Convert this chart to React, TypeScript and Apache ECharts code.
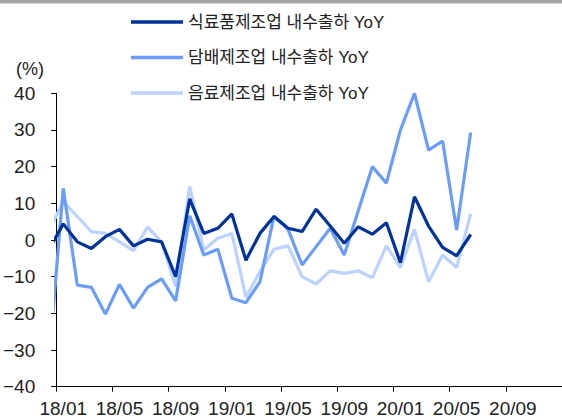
import React, { useEffect, useRef } from "react";
import * as echarts from "echarts";

// Month categories shown on the x axis (18/01 .. 20/12)
const months = [
  "18/01", "18/02", "18/03", "18/04", "18/05", "18/06", "18/07", "18/08", "18/09", "18/10", "18/11", "18/12",
  "19/01", "19/02", "19/03", "19/04", "19/05", "19/06", "19/07", "19/08", "19/09", "19/10", "19/11", "19/12",
  "20/01", "20/02", "20/03", "20/04", "20/05", "20/06", "20/07", "20/08", "20/09", "20/10", "20/11", "20/12",
];

const seriesNames = ["식료품제조업 내수출하 YoY", "담배제조업 내수출하 YoY", "음료제조업 내수출하 YoY"];

// Value for 17/12 (clipped at the left edge of the plot)
const prevFood = -2.5;
const prevTobacco = -32;
const prevBeverage = 2.7;

// 18/01 .. 20/06
const food = [
  4.4, -0.5, -2.3, 0.9, 2.9, -1.6, 0.2, -0.5, -10, 11.2, 1.8, 3.2,
  7.1, -5.5, 1.8, 6.4, 3.2, 2.3, 8.4, 3.8, -0.9, 3.6, 1.6, 4.7,
  -6.2, 11.8, 3.8, -2.0, -4.3, 1.5,
];
const tobacco = [
  14.1, -12.3, -12.9, -20.2, -12.1, -18.6, -12.9, -10.6, -16.6, 6.6, -4.1, -2.5,
  -15.9, -17.1, -11.4, 6.5, 2.9, -6.8, -1.8, 3.2, -4.1, 8.0, 20.0, 15.5,
  30.0, 40.0, 24.5, 27.0, 2.7, 29.3,
];
const beverage = [
  10.5, 6.4, 2.3, 1.8, -0.5, -2.9, 3.5, -0.5, -12.7, 14.6, -2.7, 0.5,
  1.8, -15.6, -8.6, -2.5, -1.6, -10, -12, -8.4, -9.1, -8.4, -10.3, -1.6,
  -7.5, 2.9, -11.4, -4.1, -7.5, 7.1,
];

const yTicks = { min: -40, max: 40, step: 10 };

const colors = ["#00339A", "#6B9DF8", "#BCD2FF"];
const FONT = "'Liberation Sans', 'Noto Sans CJK KR', sans-serif";
const NARROW = "'Liberation Sans Narrow', 'Liberation Sans', sans-serif";

function toPairs(prev: number, vals: number[]) {
  return [[-1, prev], ...vals.map((v, i) => [i, v])];
}

export default function App() {
  const ref = useRef<HTMLDivElement>(null);
  useEffect(() => {
    if (!ref.current) return;
    const chart = echarts.init(ref.current, undefined, { renderer: "svg" });
    const lineSeries = (name: string, data: number[][], color: string, z: number) => ({
      name,
      type: "line",
      xAxisIndex: 0,
      data,
      symbol: "none",
      z,
      lineStyle: { color, width: 3.2 },
      itemStyle: { color },
      clip: true,
    });
    chart.setOption({
      animation: false,
      graphic: [
        { type: "rect", left: 0, top: 0, shape: { width: 562, height: 3.6 }, style: { fill: "#A6A6A6" } },
        { type: "text", left: 16, top: 60, style: { text: "(%)", font: `18px ${NARROW}`, fill: "#222" } },
      ],
      legend: {
        orient: "vertical",
        left: 131,
        top: 13,
        padding: 0,
        itemGap: 17.5,
        itemWidth: 52,
        itemHeight: 3.5,
        icon: "rect",
        data: seriesNames,
        textStyle: { fontSize: 17, color: "#222", fontFamily: FONT, lineHeight: 18 },
      },
      grid: { left: 54, right: 0, top: 93.3, bottom: 32.3, containLabel: false },
      xAxis: [
        {
          type: "value",
          min: -0.5,
          max: months.length - 0.5,
          show: false,
        },
        {
          type: "category",
          data: months,
          boundaryGap: true,
          position: "bottom",
          axisLine: { onZero: true, lineStyle: { color: "#000", width: 1 } },
          axisTick: { show: true, interval: 3, length: 5, lineStyle: { color: "#000" } },
          axisLabel: { show: false },
        },
        {
          type: "category",
          data: months,
          boundaryGap: true,
          position: "bottom",
          axisLine: { show: false, onZero: false },
          axisTick: { show: false },
          axisLabel: { interval: 3, margin: 12, fontSize: 19, color: "#222", fontFamily: NARROW },
        },
      ],
      yAxis: {
        type: "value",
        min: yTicks.min,
        max: yTicks.max,
        interval: yTicks.step,
        splitLine: { show: false },
        axisLine: { show: true, onZero: false, lineStyle: { color: "#000", width: 1 } },
        axisTick: { show: true, length: 5, lineStyle: { color: "#000" } },
        axisLabel: {
          margin: 21,
          fontSize: 19,
          color: "#222",
          fontFamily: NARROW,
          formatter: (v: number) => (v < 0 ? "\u2212" + Math.abs(v) : String(v)),
        },
      },
      series: [
        lineSeries(seriesNames[2], toPairs(prevBeverage, beverage), colors[2], 2),
        lineSeries(seriesNames[1], toPairs(prevTobacco, tobacco), colors[1], 3),
        lineSeries(seriesNames[0], toPairs(prevFood, food), colors[0], 4),
      ],
    });
    return () => chart.dispose();
  }, []);
  return (
    <div
      ref={ref}
      style={{ position: "fixed", left: 0, top: 0, width: 562, height: 419, background: "#fff" }}
    />
  );
}
